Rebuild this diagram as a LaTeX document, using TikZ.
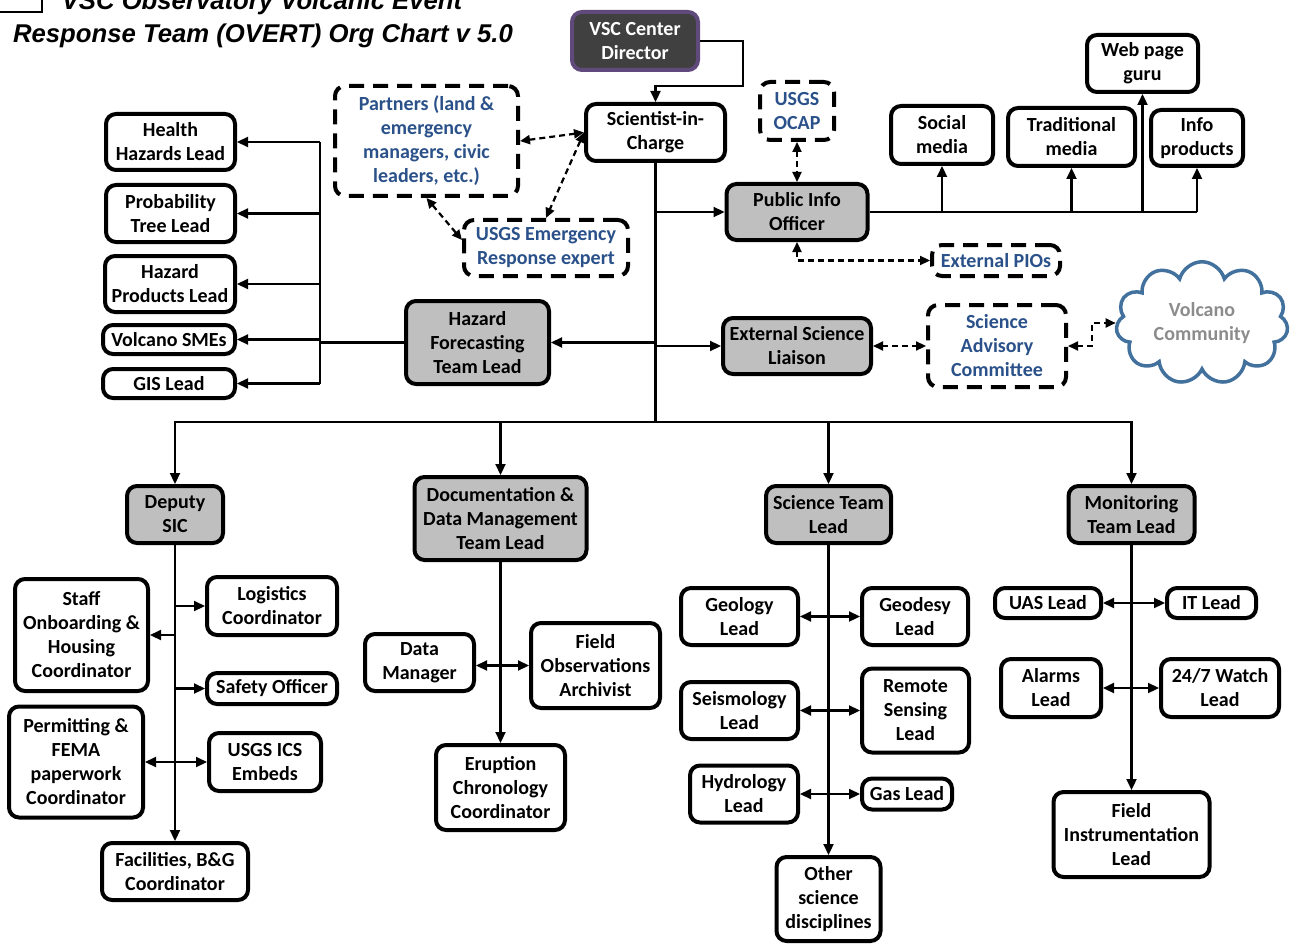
\documentclass[tikz,border=0pt]{standalone}
\usepackage{fontspec}
\setmainfont{Carlito}
\newfontfamily\titlefont{Liberation Sans}
\usetikzlibrary{arrows.meta,shapes.symbols,calc}
\definecolor{ptblue}{HTML}{2A5189}
\definecolor{leadgray}{HTML}{BFBFBF}
\definecolor{dirgray}{HTML}{404040}
\definecolor{dirpurple}{HTML}{604A7B}
\definecolor{cloudblue}{HTML}{41719C}
\definecolor{cloudtext}{HTML}{8C8C8C}
\begin{document}
\begin{tikzpicture}[x=1pt,y=-1pt,
  box/.style={draw, line width=4pt, rounded corners=10pt, fill=white, align=center,
    inner sep=1pt, font=\bfseries\fontsize{20}{24}\selectfont},
  lead/.style={box, fill=leadgray},
  ext/.style={box, dash pattern=on 15pt off 9pt, text=ptblue},
  conn/.style={line width=2.2pt},
  arr/.style={conn, -{Triangle[length=11pt,width=10pt]}},
  darr/.style={conn, {Triangle[length=11pt,width=10pt]}-{Triangle[length=11pt,width=10pt]}},
  dlink/.style={conn, dash pattern=on 6pt off 4pt,
    {Triangle[length=10pt,width=9pt]}-{Triangle[length=10pt,width=9pt]}},
  ttl/.style={font=\titlefont\bfseries\itshape\fontsize{25.7}{30}\selectfont, anchor=base, inner sep=0pt}
]
\useasboundingbox (0,0) rectangle (1298,944);
\clip (0,0) rectangle (1298,944);

% title block
\draw[line width=1.5pt] (-10,-10) rectangle (42,12);
\node[ttl] (title1) at (262,9.5) {VSC Observatory Volcanic Event};
\node[ttl] (title2) at (263,43) {Response Team (OVERT) Org Chart v 5.0};

% command level
\node[box, fill=dirgray, draw=dirpurple, text=white, minimum width=126, minimum height=58] (dir) at (635,41) {VSC Center\\Director};
\node[box, minimum width=139, minimum height=57] (sic) at (655.5,132.5) {Scientist-in-\\Charge};
\node[ext, minimum width=183, minimum height=110] (partners) at (426.5,141) {Partners (land \&\\emergency\\managers, civic\\leaders, etc.)};
\node[ext, minimum width=164, minimum height=56] (usgsem) at (546,248) {USGS Emergency\\Response expert};

% public information
\node[ext, minimum width=74, minimum height=58] (ocap) at (797,111) {USGS\\OCAP};
\node[lead, minimum width=141, minimum height=56] (pio) at (797,212) {Public Info\\Officer};
\node[box, minimum width=102, minimum height=58] (social) at (942,135) {Social\\media};
\node[box, minimum width=127, minimum height=58] (trad) at (1071.5,137) {Traditional\\media};
\node[box, minimum width=111, minimum height=57] (web) at (1142.5,63.5) {Web page\\guru};
\node[box, minimum width=92, minimum height=56] (info) at (1197,138) {Info\\products};
\node[ext, minimum width=128, minimum height=31] (extpio) at (996,260.5) {External PIOs};

% hazard forecasting and external science
\node[lead, minimum width=143, minimum height=83] (hf) at (477.5,342.5) {Hazard\\Forecasting\\Team Lead};
\node[lead, minimum width=148, minimum height=56] (esl) at (797,346) {External Science\\Liaison};
\node[ext, minimum width=138, minimum height=82] (sac) at (997,346) {Science\\Advisory\\Committee};
\node[cloud, cloud puffs=11, aspect=1.45, draw=cloudblue, line width=3.5pt, fill=white,
  minimum width=172, minimum height=120, text=cloudtext, align=center, inner sep=1pt,
  font=\bfseries\fontsize{20}{24}\selectfont] (cloud) at (1202,323) {Volcano\\Community};

\node[box, minimum width=129, minimum height=56] (health) at (170.5,142) {Health\\Hazards Lead};
\node[box, minimum width=129, minimum height=57] (prob) at (170.5,213.5) {Probability\\Tree Lead};
\node[box, minimum width=130, minimum height=56] (hprod) at (170,284) {Hazard\\Products Lead};
\node[box, minimum width=132, minimum height=29] (smes) at (169,339.5) {Volcano SMEs};
\node[box, minimum width=132, minimum height=29] (gis) at (169,383.5) {GIS Lead};

% team leads
\node[lead, minimum width=96, minimum height=57] (deputy) at (175,514.5) {Deputy\\SIC};
\node[lead, minimum width=172, minimum height=83] (doc) at (500.5,518.5) {Documentation \&\\Data Management\\Team Lead};
\node[lead, minimum width=125, minimum height=57] (sci) at (828.5,514.5) {Science Team\\Lead};
\node[lead, minimum width=126, minimum height=57] (mon) at (1131.5,514.5) {Monitoring\\Team Lead};

% deputy SIC staff
\node[box, minimum width=130, minimum height=58] (logi) at (272,606) {Logistics\\Coordinator};
\node[box, minimum width=133, minimum height=112] (staff) at (81.5,635) {Staff\\Onboarding \&\\Housing\\Coordinator};
\node[box, minimum width=130, minimum height=31] (safety) at (272,688.5) {Safety Officer};
\node[box, minimum width=134, minimum height=111] (permit) at (76,762) {Permitting \&\\FEMA\\paperwork\\Coordinator};
\node[box, minimum width=112, minimum height=58] (ics) at (265,762) {USGS ICS\\Embeds};
\node[box, minimum width=146, minimum height=57] (facil) at (175,871.5) {Facilities, B\&G\\Coordinator};

% documentation staff
\node[box, minimum width=109, minimum height=57] (dm) at (419.5,662.5) {Data\\Manager};
\node[box, minimum width=129, minimum height=85] (fo) at (595.5,665.5) {Field\\Observations\\Archivist};
\node[box, minimum width=129, minimum height=85] (erupt) at (500.5,787.5) {Eruption\\Chronology\\Coordinator};

% science staff
\node[box, minimum width=117, minimum height=57] (geol) at (739.5,616.5) {Geology\\Lead};
\node[box, minimum width=106, minimum height=57] (geod) at (915,616.5) {Geodesy\\Lead};
\node[box, minimum width=117, minimum height=57] (seis) at (739.5,710.5) {Seismology\\Lead};
\node[box, minimum width=107, minimum height=84] (rs) at (915.5,710.5) {Remote\\Sensing\\Lead};
\node[box, minimum width=108, minimum height=57] (hydro) at (744,794) {Hydrology\\Lead};
\node[box, minimum width=90, minimum height=31] (gas) at (907,794) {Gas Lead};
\node[box, minimum width=104, minimum height=84] (other) at (828.5,899) {Other\\science\\disciplines};

% monitoring staff
\node[box, minimum width=106, minimum height=30] (uas) at (1048,603) {UAS Lead};
\node[box, minimum width=89, minimum height=30] (it) at (1211.5,603) {IT Lead};
\node[box, minimum width=100, minimum height=58] (alarm) at (1051,688) {Alarms\\Lead};
\node[box, minimum width=118, minimum height=58] (watch) at (1220,688) {24/7 Watch\\Lead};
\node[box, minimum width=156, minimum height=85] (finst) at (1131.5,834.5) {Field\\Instrumentation\\Lead};

% ---- connectors ----
\coordinate (dirbend) at (743,86);
\draw[arr] (dir.east) -| (dirbend) -| (sic.north);

\coordinate (bus) at (655.5,422);
\draw[conn] (sic.south) -- (bus);
\draw[arr] (bus) -| (deputy.north);
\draw[arr] (bus) -| (doc.north);
\draw[arr] (bus) -| (sci.north);
\draw[arr] (bus) -| (mon.north);
\draw[arr] (pio.west -| sic.south) -- (pio.west);
\draw[arr] (hf.east -| sic.south) -- (hf.east);
\draw[arr] (esl.west -| sic.south) -- (esl.west);

% hazard forecasting team
\coordinate (hzx) at (320,343);
\draw[conn] (hf.west) -- (hf.west -| hzx);
\draw[conn] (health.east -| hzx) -- (gis.east -| hzx);
\foreach \n in {health,prob,hprod,smes,gis}
  \draw[arr] (\n.east -| hzx) -- (\n.east);

% public information
\draw[conn] (pio.east) -- (pio.east -| info.south);
\foreach \n in {social,trad,web,info}
  \draw[arr] (pio.east -| \n.south) -- (\n.south);
\draw[dlink] (ocap.south) -- (pio.north);
\draw[dlink] (pio.south) |- (extpio.west);

% partners
\draw[dlink] (partners.east) -- (sic.west);
\draw[dlink] (sic.west) -- (usgsem.north);
\draw[dlink] (partners.south) -- ($(usgsem.west)+(0,-8)$);

% external science
\draw[dlink] (esl.east) -- (sac.west);
\coordinate (cbend) at (1092,334);
\draw[dlink] (sac.east) -| (cbend) |- (cloud.west);

% deputy SIC
\draw[arr] (deputy.south) -- (facil.north);
\draw[arr] (logi.west -| deputy.south) -- (logi.west);
\draw[arr] (staff.east -| deputy.south) -- (staff.east);
\draw[arr] (safety.west -| deputy.south) -- (safety.west);
\draw[darr] (permit.east) -- (ics.west);

% documentation
\draw[arr] (doc.south) -- (erupt.north);
\draw[darr] (dm.east |- fo.west) -- (fo.west);

% science
\draw[arr] (sci.south) -- (other.north);
\draw[darr] (geol.east) -- (geod.west);
\draw[darr] (seis.east) -- (rs.west);
\draw[darr] (hydro.east) -- (gas.west);

% monitoring
\draw[arr] (mon.south) -- (finst.north);
\draw[darr] (uas.east) -- (it.west);
\draw[darr] (alarm.east) -- (watch.west);
\end{tikzpicture}
\end{document}
